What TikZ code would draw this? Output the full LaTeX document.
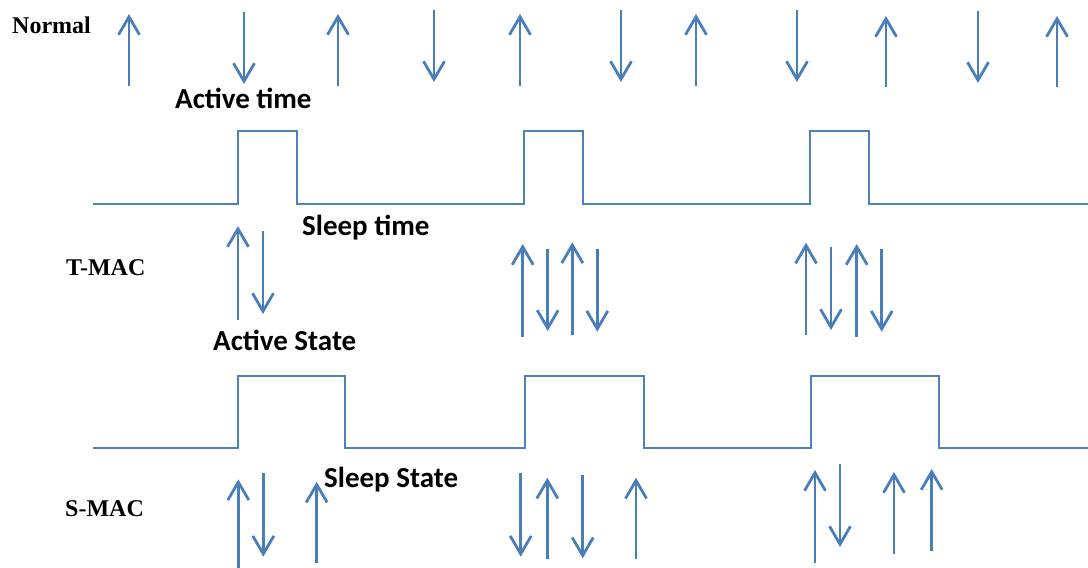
\documentclass[tikz,border=0pt]{standalone}
\usepackage{fontspec}
\setmainfont{Liberation Serif}
\newfontfamily\calfont{Carlito}
\usetikzlibrary{arrows.meta}
\definecolor{ab}{HTML}{4A7EBB}
\definecolor{pb}{HTML}{4F81BD}
\begin{document}
\begin{tikzpicture}[x=1pt,y=-1pt,
  arr/.style={draw=ab, line width=2.8pt, -{Straight Barb[length=18pt,width=21pt]}},
  wave/.style={draw=pb, line width=2pt},
  rowlab/.style={font=\fontsize{24}{24}\selectfont\bfseries, anchor=base west, inner sep=0pt},
  statelab/.style={font=\calfont\fontsize{29}{29}\selectfont\bfseries, anchor=base west, inner sep=0pt}]
\useasboundingbox (0,0) rectangle (1088,568);

% labels
\node[rowlab] (normal) at (12,33.5) {Normal};
\node[rowlab] (tmac) at (66,275.7) {T-MAC};
\node[rowlab] (smac) at (65,516.7) {S-MAC};
\node[statelab] (actt) at (175,108) {Active time};
\node[statelab] (sleept) at (302,235) {Sleep time};
\node[statelab] (acts) at (213,350) {Active State};
\node[statelab] (sleeps) at (324,487) {Sleep State};

% normal arrows
\foreach \x/\a/\b in {129/86/14, 244/12/84, 338/86/14, 434/10/82, 520/86/14, 621/10/82, 696/86/14, 797/10/82, 886/87/16, 978/11/83, 1057/87/16}
  \draw[arr] (\x,\a) -- (\x,\b);

% T-MAC waveform
\draw[wave] (93,204) -- (238,204) -- (238,131) -- (297,131) -- (297,204) -- (524,204) -- (524,131) -- (583,131) -- (583,204) -- (810,204) -- (810,131) -- (869,131) -- (869,204) -- (1088,204);

% T-MAC arrows
\foreach \x/\a/\b in {238/320/226, 263/231/314, 522.7/336.7/244, 547.7/249/331, 572.3/335/242.3, 597.3/249/331.7, 806/335/242.7, 831/246.7/330, 856.7/336.7/244, 881.7/249/331.7}
  \draw[arr] (\x,\a) -- (\x,\b);

% S-MAC waveform
\draw[wave] (93,448) -- (238,448) -- (238,376) -- (345,376) -- (345,448) -- (525,448) -- (525,376) -- (644,376) -- (644,448) -- (811,448) -- (811,376) -- (939,376) -- (939,448) -- (1088,448);

% S-MAC arrows
\foreach \x/\a/\b in {238.3/568/479.3, 263.3/473.3/556.7, 316.7/563.3/481.7, 520.7/473.3/556.7, 547.3/559.3/477.7, 582.7/475/558.3, 636/559.3/477.7, 815/563/470, 840/464/547, 894/554/472, 931.7/550.7/469}
  \draw[arr] (\x,\a) -- (\x,\b);
\end{tikzpicture}
\end{document}
